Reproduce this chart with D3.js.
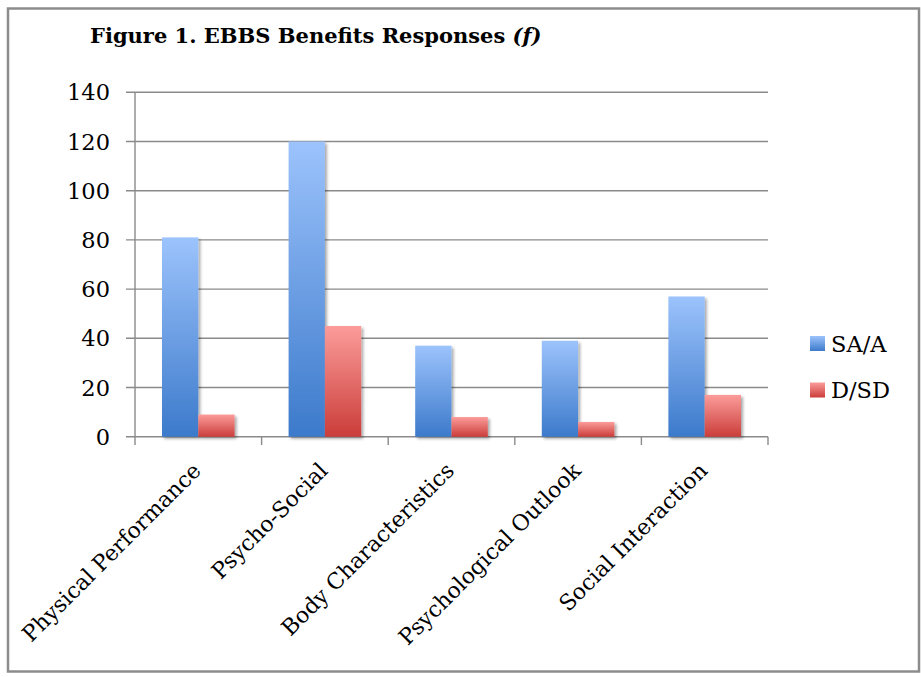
<!DOCTYPE html>
<html><head><meta charset="utf-8">
<script src="https://cdn.jsdelivr.net/npm/d3@7"></script>
<style>
body{margin:0;background:#fff;}
text{font-family:"DejaVu Serif",serif;fill:#000;}
</style></head>
<body><svg id="c" width="921" height="677"></svg>
<script>
const categories = ["Physical Performance","Psycho-Social","Body Characteristics","Psychological Outlook","Social Interaction"];
const seriesNames = ["SA/A","D/SD"];
const saValues = [81,120,37,39,57];
const dsdValues = [9,45,8,6,17];
const yTicks = [0,20,40,60,80,100,120,140];
const titleText = "Figure 1. EBBS Benefits Responses ";
const titleItalic = "(f)";

const data = categories.map((c,i)=>({cat:c, vals:[{s:seriesNames[0],v:saValues[i]},{s:seriesNames[1],v:dsdValues[i]}]}));

const svg = d3.select("#c");
const defs = svg.append("defs");
const grads = [["gBlue","#9cc3fc","#3c7acb"],["gRed","#fb9c9a","#cb3d3a"]];
grads.forEach(([id,a,b])=>{
  const g = defs.append("linearGradient").attr("id",id).attr("x1",0).attr("y1",0).attr("x2",0).attr("y2",1);
  g.append("stop").attr("offset","0%").attr("stop-color",a);
  g.append("stop").attr("offset","100%").attr("stop-color",b);
});
const f = defs.append("filter").attr("id","sh").attr("x","-20%").attr("y","-20%").attr("width","150%").attr("height","150%");
f.append("feGaussianBlur").attr("in","SourceAlpha").attr("stdDeviation",1.5).attr("result","b");
f.append("feOffset").attr("in","b").attr("dx",1.5).attr("dy",1.5).attr("result","o");
f.append("feComponentTransfer").attr("in","o").attr("result","o2").append("feFuncA").attr("type","linear").attr("slope",0.35);
const m = f.append("feMerge"); m.append("feMergeNode").attr("in","o2"); m.append("feMergeNode").attr("in","SourceGraphic");

// border
svg.append("rect").attr("x",8).attr("y",8.5).attr("width",911).attr("height",663).attr("fill","#fff").attr("stroke","#8c8c8c").attr("stroke-width",2.5);

const L=135, R=768, T=92.3, B=436.7;
const x0 = d3.scaleBand().domain(categories).range([L,R]).paddingInner(0).paddingOuter(0);
const x1 = d3.scaleBand().domain(seriesNames).range([0,x0.bandwidth()]).paddingInner(0).paddingOuter(0.744);
const y = d3.scaleLinear().domain([0,140]).range([B,T]);
const color = {"SA/A":"url(#gBlue)","D/SD":"url(#gRed)"};

// gridlines
svg.append("g").selectAll("line").data(yTicks).join("line")
  .attr("x1",126).attr("x2",R).attr("y1",d=>y(d)).attr("y2",d=>y(d))
  .attr("stroke","#8a8a8a").attr("stroke-width",1.4);
// y axis line
svg.append("line").attr("x1",L).attr("x2",L).attr("y1",T).attr("y2",445).attr("stroke","#8a8a8a").attr("stroke-width",1.4);
// category ticks
const bounds = categories.map(c=>x0(c)).concat([R]);
svg.append("g").selectAll("line").data(bounds.slice(1)).join("line")
  .attr("x1",d=>d).attr("x2",d=>d).attr("y1",B).attr("y2",445).attr("stroke","#8a8a8a").attr("stroke-width",1.4);

// y labels
svg.append("g").selectAll("text").data(yTicks).join("text")
  .attr("x",110).attr("y",d=>y(d)).attr("dy","0.36em").attr("text-anchor","end")
  .style("font-size","22.5px").text(d=>d);

// bars
const groups = svg.append("g").selectAll("g").data(data).join("g").attr("transform",d=>`translate(${x0(d.cat)},0)`);
groups.selectAll("rect").data(d=>d.vals).join("rect")
  .attr("x",d=>x1(d.s)).attr("width",x1.bandwidth())
  .attr("y",d=>y(d.v)).attr("height",d=>B-y(d.v))
  .attr("fill",d=>color[d.s]).attr("filter","url(#sh)");

// x labels
svg.append("g").selectAll("text").data(categories).join("text")
  .attr("transform",d=>`translate(${x0(d)+x0.bandwidth()/2+4},${472}) rotate(-45)`)
  .attr("text-anchor","end").style("font-size","22px").text(d=>d);

// title
const t = svg.append("text").attr("x",90).attr("y",43).style("font-size","21px").style("font-weight","bold");
t.append("tspan").text(titleText);
t.append("tspan").style("font-style","italic").text(titleItalic);

// legend
const lg = svg.append("g").selectAll("g").data(seriesNames).join("g").attr("transform",(d,i)=>`translate(810,${336+i*46.5})`);
lg.append("rect").attr("width",15).attr("height",15).attr("fill",d=>color[d]);
lg.append("text").attr("x",21).attr("y",15.5).style("font-size","22.5px").text(d=>d);
</script></body></html>
